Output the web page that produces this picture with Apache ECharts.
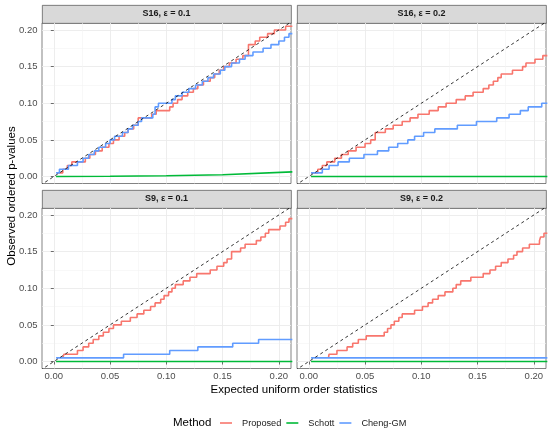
<!DOCTYPE html>
<html>
<head>
<meta charset="utf-8">
<script src="https://cdn.jsdelivr.net/npm/echarts@6/dist/echarts.min.js"></script>
<style>
html, body { margin: 0; padding: 0; background: #fff; }
#main { width: 550px; height: 433px; }
</style>
</head>
<body>
<div id="main"></div>
<script>
// tick labels
const majorTicks = [0, 0.05, 0.1, 0.15, 0.2]
const minorTicks = [0.025, 0.075, 0.125, 0.175]
const methods = ['Proposed', 'Schott', 'Cheng-GM']
const panelTitles = ['S16, ε = 0.1', 'S16, ε = 0.2', 'S9, ε = 0.1', 'S9, ε = 0.2']

// [expected, observed] - step starts
const s16e1Proposed = [[0.003,0.005],[0.008,0.01],[0.012,0.015],[0.016,0.02],[0.028,0.025],[0.032,0.03],[0.037,0.035],[0.043,0.04],[0.049,0.045],[0.053,0.05],[0.058,0.055],[0.063,0.06],[0.066,0.065],[0.071,0.07],[0.075,0.08],[0.087,0.085],[0.091,0.09],[0.103,0.095],[0.106,0.1],[0.11,0.105],[0.114,0.11],[0.119,0.115],[0.124,0.12],[0.128,0.125],[0.133,0.13],[0.139,0.135],[0.143,0.14],[0.147,0.145],[0.151,0.15],[0.156,0.155],[0.162,0.16],[0.168,0.165],[0.173,0.18],[0.179,0.185],[0.183,0.19],[0.19,0.195],[0.196,0.2],[0.206,0.205],[0.212,0.205]]
const s16e1Schott = [[0.002,0],[0.05,0.0003],[0.1,0.001],[0.15,0.0025],[0.212,0.0063]]
const s16e1Cheng = [[0.002,0.005],[0.005,0.01],[0.013,0.015],[0.021,0.02],[0.026,0.025],[0.031,0.03],[0.036,0.035],[0.04,0.04],[0.046,0.045],[0.05,0.05],[0.054,0.055],[0.061,0.06],[0.066,0.065],[0.07,0.07],[0.075,0.075],[0.078,0.08],[0.088,0.085],[0.09,0.095],[0.093,0.1],[0.105,0.105],[0.108,0.11],[0.114,0.115],[0.12,0.12],[0.126,0.125],[0.132,0.13],[0.137,0.135],[0.142,0.14],[0.148,0.145],[0.152,0.15],[0.158,0.155],[0.165,0.16],[0.17,0.165],[0.177,0.17],[0.186,0.175],[0.193,0.18],[0.2,0.185],[0.205,0.19],[0.209,0.195],[0.212,0.195]]

const s16e2Proposed = [[0.002,0.005],[0.008,0.01],[0.012,0.015],[0.016,0.02],[0.023,0.025],[0.029,0.03],[0.035,0.035],[0.042,0.04],[0.05,0.045],[0.055,0.05],[0.059,0.06],[0.068,0.065],[0.075,0.07],[0.083,0.075],[0.09,0.08],[0.097,0.085],[0.107,0.09],[0.115,0.095],[0.122,0.1],[0.131,0.105],[0.139,0.11],[0.146,0.115],[0.155,0.12],[0.16,0.125],[0.164,0.13],[0.168,0.135],[0.171,0.14],[0.181,0.145],[0.19,0.15],[0.193,0.155],[0.201,0.16],[0.208,0.165],[0.212,0.165]]
const s16e2Schott = [[0.002,0],[0.212,0]]
const s16e2Cheng = [[0.002,0.005],[0.012,0.01],[0.018,0.015],[0.026,0.02],[0.036,0.025],[0.049,0.03],[0.061,0.035],[0.071,0.04],[0.079,0.045],[0.088,0.05],[0.094,0.055],[0.102,0.06],[0.112,0.065],[0.132,0.07],[0.149,0.075],[0.167,0.08],[0.178,0.085],[0.188,0.09],[0.195,0.095],[0.207,0.1],[0.212,0.1]]

const s9e1Proposed = [[0.008,0.005],[0.009,0.01],[0.021,0.015],[0.026,0.02],[0.031,0.025],[0.035,0.03],[0.04,0.035],[0.044,0.04],[0.049,0.045],[0.053,0.05],[0.06,0.055],[0.068,0.06],[0.074,0.065],[0.08,0.07],[0.086,0.075],[0.09,0.08],[0.095,0.085],[0.098,0.09],[0.102,0.095],[0.105,0.1],[0.108,0.105],[0.115,0.11],[0.121,0.115],[0.127,0.12],[0.139,0.125],[0.145,0.13],[0.151,0.135],[0.154,0.14],[0.158,0.15],[0.166,0.155],[0.17,0.16],[0.18,0.165],[0.184,0.17],[0.188,0.175],[0.191,0.18],[0.201,0.185],[0.206,0.19],[0.209,0.195],[0.212,0.195]]
const s9e1Schott = [[0.002,0],[0.212,0]]
const s9e1Cheng = [[0.002,0.005],[0.062,0.01],[0.103,0.015],[0.128,0.02],[0.159,0.025],[0.182,0.03],[0.212,0.03]]

const s9e2Proposed = [[0.0175,0.005],[0.018,0.01],[0.025,0.015],[0.034,0.02],[0.039,0.025],[0.044,0.03],[0.051,0.035],[0.067,0.04],[0.07,0.045],[0.073,0.05],[0.076,0.055],[0.08,0.06],[0.083,0.065],[0.094,0.07],[0.101,0.075],[0.106,0.08],[0.11,0.085],[0.115,0.09],[0.121,0.095],[0.128,0.1],[0.131,0.105],[0.135,0.11],[0.144,0.115],[0.155,0.12],[0.161,0.125],[0.166,0.13],[0.171,0.135],[0.177,0.14],[0.182,0.145],[0.185,0.15],[0.19,0.155],[0.196,0.16],[0.205,0.165],[0.206,0.17],[0.209,0.175],[0.212,0.175]]
const s9e2Schott = [[0.002,0],[0.212,0]]
const s9e2Cheng = [[0.002,0.005],[0.212,0.005]]

const diagonal = [[-0.03,-0.03],[0.24,0.24]]

const panelData = [
    [s16e1Proposed, s16e1Schott, s16e1Cheng],
    [s16e2Proposed, s16e2Schott, s16e2Cheng],
    [s9e1Proposed, s9e1Schott, s9e1Cheng],
    [s9e2Proposed, s9e2Schott, s9e2Cheng]
]

const colors = ['#F8766D', '#00BA38', '#619CFF']
const font = 'Liberation Sans, Arial, sans-serif'
const lefts = [42, 297, 42, 297]
const tops = [23, 23, 208, 208]
const W = 249, H = 160.5, stripH = 18
const xMin = -0.0105, xMax = 0.2108
const yMin = -0.0095, yMax = 0.2095

const grids = [], xAxes = [], yAxes = [], series = [], graphics = []

panelData.forEach((rows, i) => {
    const isBottom = i >= 2
    const isLeft = i % 2 === 0
    grids.push({
        left: lefts[i], top: tops[i], width: W, height: H,
        show: true, borderColor: '#4d4d4d', borderWidth: 0.7, backgroundColor: '#fff'
    })
    // major axes
    xAxes.push({
        type: 'value', gridIndex: i, min: xMin, max: xMax,
        axisLine: { show: false },
        axisTick: { show: isBottom, length: 3, customValues: majorTicks, lineStyle: { color: '#333', width: 0.7 } },
        axisLabel: { show: isBottom, customValues: majorTicks, margin: 3, color: '#4D4D4D', fontSize: 9.5, fontFamily: font, formatter: v => v.toFixed(2) },
        splitLine: { show: true, lineStyle: { color: '#EBEBEB', width: 0.9 } }
    })
    yAxes.push({
        type: 'value', gridIndex: i, min: yMin, max: yMax,
        axisLine: { show: false },
        axisTick: { show: isLeft, length: 3, customValues: majorTicks, lineStyle: { color: '#333', width: 0.7 } },
        axisLabel: { show: isLeft, customValues: majorTicks, margin: 4.5, color: '#4D4D4D', fontSize: 9.5, fontFamily: font, formatter: v => v.toFixed(2) },
        splitLine: { show: true, lineStyle: { color: '#EBEBEB', width: 0.9 } }
    })
    // minor grid axes
    xAxes.push({
        type: 'value', gridIndex: i, min: xMin, max: xMax,
        axisLine: { show: false }, axisLabel: { show: false },
        axisTick: { show: false, customValues: minorTicks },
        splitLine: { show: true, lineStyle: { color: '#F4F4F4', width: 0.6 } }
    })
    yAxes.push({
        type: 'value', gridIndex: i, min: yMin, max: yMax,
        axisLine: { show: false }, axisLabel: { show: false },
        axisTick: { show: false, customValues: minorTicks },
        splitLine: { show: true, lineStyle: { color: '#F4F4F4', width: 0.6 } }
    })

    rows.forEach((d, k) => {
        series.push({
            name: methods[k], type: 'line', xAxisIndex: i * 2, yAxisIndex: i * 2,
            data: d, step: (i === 0 && k === 1) ? false : 'end',
            showSymbol: false, symbol: 'none', clip: true, z: 2,
            lineStyle: { color: colors[k], width: 1.6 }, itemStyle: { color: colors[k] }
        })
    })
    series.push({
        name: 'diag', type: 'line', xAxisIndex: i * 2, yAxisIndex: i * 2,
        data: diagonal, showSymbol: false, symbol: 'none', clip: true, silent: true, z: 3,
        lineStyle: { color: '#000', width: 0.8, type: [3, 3] }
    })

    // facet strip
    graphics.push({
        type: 'rect', left: lefts[i], top: tops[i] - stripH,
        shape: { width: W, height: stripH },
        style: { fill: '#D9D9D9', stroke: '#4d4d4d', lineWidth: 0.7 }
    })
    graphics.push({
        type: 'text', x: lefts[i] + W / 2, y: tops[i] - stripH / 2,
        style: { text: panelTitles[i], fill: '#1A1A1A', font: 'bold 9px ' + font, align: 'center', verticalAlign: 'middle' }
    })
})

graphics.push({
    type: 'text', x: 12, y: 196, rotation: Math.PI / 2,
    style: { text: 'Observed ordered p-values', fill: '#000', font: '11.5px ' + font, align: 'center', verticalAlign: 'middle' }
})
graphics.push({
    type: 'text', x: 294, y: 390,
    style: { text: 'Expected uniform order statistics', fill: '#000', font: '11.5px ' + font, align: 'center', verticalAlign: 'middle' }
})
graphics.push({
    type: 'text', x: 173, y: 423,
    style: { text: 'Method', fill: '#000', font: '11.5px ' + font, align: 'left', verticalAlign: 'middle' }
})

const chart = echarts.init(document.getElementById('main'), null, { renderer: 'canvas' })
chart.setOption({
    animation: false,
    backgroundColor: '#fff',
    grid: grids,
    xAxis: xAxes,
    yAxis: yAxes,
    series: series,
    graphic: graphics,
    legend: {
        data: methods, left: 220, top: 418.5, padding: 0, icon: 'rect',
        itemWidth: 12, itemHeight: 1.6, itemGap: 5,
        textStyle: { fontSize: 9.2, color: '#1A1A1A', fontFamily: font, padding: [0, 0, 0, 5] }
    }
})
window.addEventListener('resize', () => {
    chart.resize()
})
</script>
</body>
</html>
